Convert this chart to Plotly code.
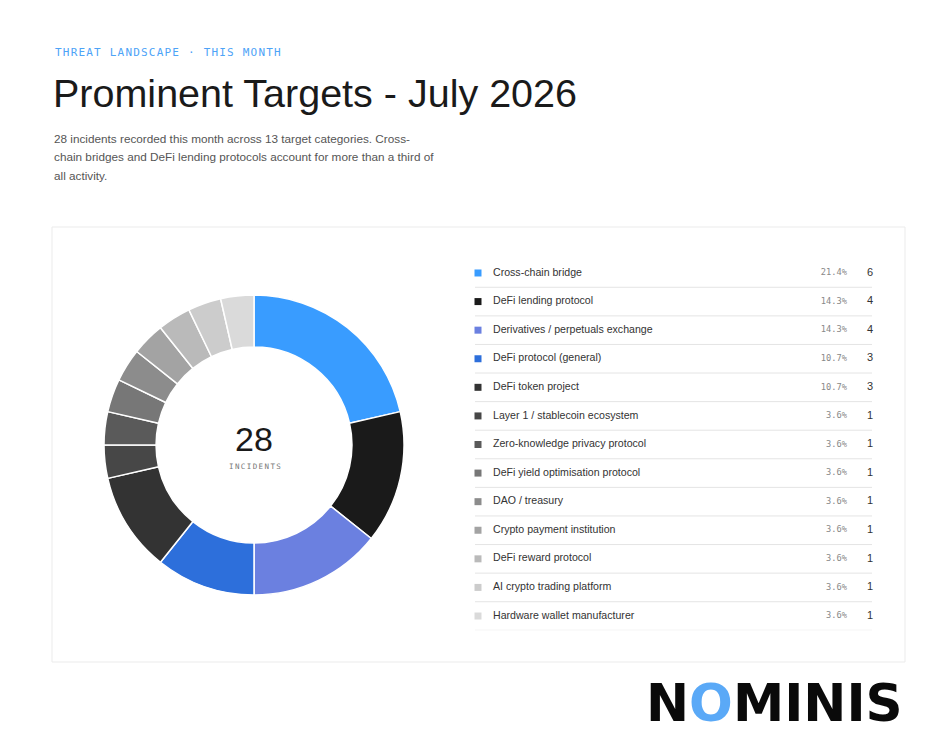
import plotly.graph_objects as go

categories = [
    "Cross-chain bridge",
    "DeFi lending protocol",
    "Derivatives / perpetuals exchange",
    "DeFi protocol (general)",
    "DeFi token project",
    "Layer 1 / stablecoin ecosystem",
    "Zero-knowledge privacy protocol",
    "DeFi yield optimisation protocol",
    "DAO / treasury",
    "Crypto payment institution",
    "DeFi reward protocol",
    "AI crypto trading platform",
    "Hardware wallet manufacturer",
]
counts = [6, 4, 4, 3, 3, 1, 1, 1, 1, 1, 1, 1, 1]
colors = [
    "#399cff", "#1a1a1a", "#6b80e0", "#2d6fdb", "#333333",
    "#474747", "#5a5a5a", "#777777", "#8c8c8c",
    "#a3a3a3", "#bababa", "#cccccc", "#dadada",
]
subtitle_lines = [
    "28 incidents recorded this month across 13 target categories. Cross-",
    "chain bridges and DeFi lending protocols account for more than a third of",
    "all activity.",
]

total = sum(counts)
pct_labels = [f"{c / total * 100:.1f}%" for c in counts]
rows = list(range(len(categories)))
n = len(categories)

# page is 951x742; the browser body adds an 8px margin, so shift by it
W, H = 951, 742
OFF = 8


def px(x):
    return (x - OFF) / W


def py(y):
    return 1 - (y - OFF) / H


SANS = "Liberation Sans, Arial, sans-serif"
MONO = "DejaVu Sans Mono, monospace"

fig = go.Figure()

fig.add_trace(go.Pie(
    labels=categories,
    values=counts,
    sort=False,
    direction="clockwise",
    rotation=0,
    hole=0.653,
    marker=dict(colors=colors, line=dict(color="white", width=1.5)),
    textinfo="none",
    hoverinfo="label+value+percent",
    domain=dict(x=[px(104), px(404)], y=[py(595), py(295)]),
    showlegend=False,
))

# legend table on its own axis (x in page pixels)
fig.add_trace(go.Scatter(
    x=[478] * n, y=rows, mode="markers",
    marker=dict(symbol="square", size=7, color=colors),
    hoverinfo="skip", showlegend=False, cliponaxis=False,
))
fig.add_trace(go.Scatter(
    x=[493] * n, y=rows, mode="text", text=categories,
    textposition="middle right",
    textfont=dict(family=SANS, size=10.6, color="#333333"),
    hoverinfo="skip", showlegend=False, cliponaxis=False,
))
fig.add_trace(go.Scatter(
    x=[847] * n, y=rows, mode="text", text=pct_labels,
    textposition="middle left",
    textfont=dict(family=MONO, size=8.7, color="#888888"),
    hoverinfo="skip", showlegend=False, cliponaxis=False,
))
fig.add_trace(go.Scatter(
    x=[873] * n, y=rows, mode="text", text=[str(c) for c in counts],
    textposition="middle left",
    textfont=dict(family=SANS, size=11, color="#333333"),
    hoverinfo="skip", showlegend=False, cliponaxis=False,
))

shapes = [dict(
    type="rect", xref="paper", yref="paper",
    x0=px(52), x1=px(905), y0=py(662), y1=py(227),
    line=dict(color="#ebebeb", width=1), fillcolor="white", layer="below",
)]
for i in rows:
    shapes.append(dict(
        type="line", xref="x", yref="y",
        x0=475, x1=872, y0=i + 0.5, y1=i + 0.5,
        line=dict(color="#e4e4e4", width=1),
    ))

annotations = [
    dict(text='<span style="letter-spacing:1.2px">THREAT LANDSCAPE · THIS MONTH</span>',
         x=px(53), y=py(52.5), xanchor="left", yanchor="middle",
         font=dict(family=MONO, size=11, color="#4da3f7")),
    dict(text="Prominent Targets - July 2026",
         x=px(51), y=py(93), xanchor="left", yanchor="middle",
         font=dict(family=SANS, size=39.5, color="#1a1a1a")),
    dict(text="28", x=px(254), y=py(439), xanchor="center", yanchor="middle",
         font=dict(family=SANS, size=34, color="#1a1a1a")),
    dict(text='<span style="letter-spacing:1.4px">INCIDENTS</span>',
         x=px(255), y=py(466), xanchor="center", yanchor="middle",
         font=dict(family=MONO, size=7.5, color="#777777")),
    dict(text="<b>N<span style='color:#5aa9f7'>O</span>MINIS</b>",
         x=px(644), y=py(703), xanchor="left", yanchor="middle",
         font=dict(family="DejaVu Sans, sans-serif", size=51.5, color="#0a0a0a")),
]
for k, line in enumerate(subtitle_lines):
    annotations.append(dict(
        text=line, x=px(52), y=py(138 + 18.5 * k), xanchor="left", yanchor="middle",
        font=dict(family=SANS, size=11.75, color="#555555"),
    ))
for a in annotations:
    a.update(xref="paper", yref="paper", showarrow=False)

fig.update_layout(
    width=W, height=H,
    margin=dict(l=0, r=0, t=0, b=0),
    paper_bgcolor="white",
    plot_bgcolor="rgba(0,0,0,0)",
    xaxis=dict(domain=[px(460), px(890)], range=[460, 890], visible=False, fixedrange=True),
    yaxis=dict(domain=[py(630.3), py(258.7)], range=[12.5, -0.5], visible=False, fixedrange=True),
    shapes=shapes,
    annotations=annotations,
    showlegend=False,
)

fig.write_html("out.html")
